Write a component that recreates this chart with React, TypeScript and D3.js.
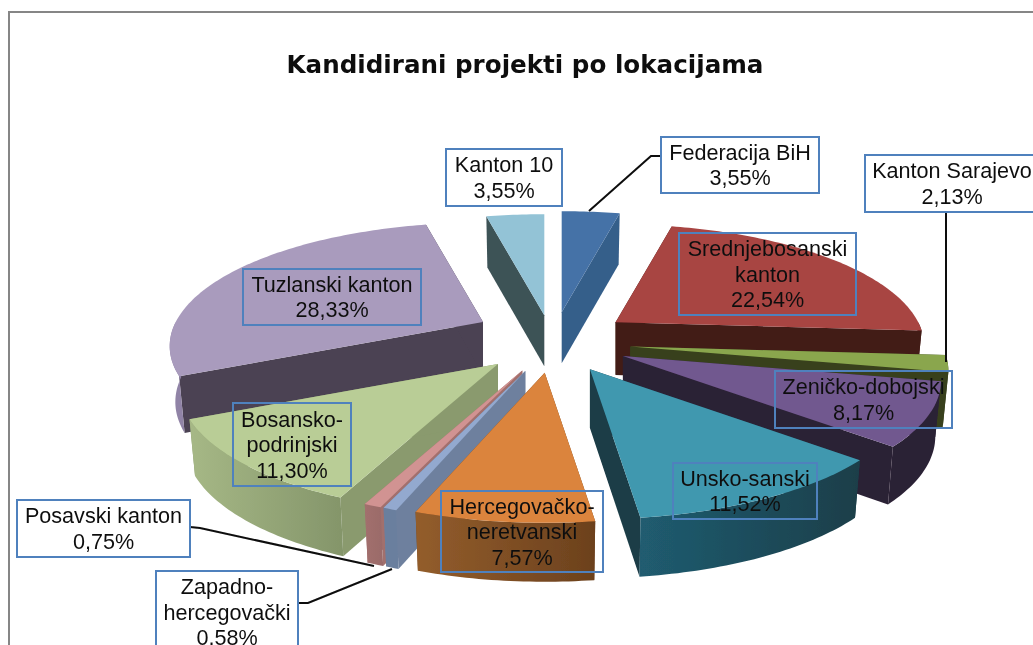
import React from 'react';
import * as d3 from 'd3';

// clockwise from 12 o'clock
const categories = [
  'Federacija BiH', 'Srednjebosanski\nkanton', 'Kanton Sarajevo', 'Zeničko-dobojski', 'Unsko-sanski',
  'Hercegovačko-\nneretvanski', 'Zapadno-\nhercegovački', 'Posavski kanton', 'Bosansko-\npodrinjski',
  'Tuzlanski kanton', 'Kanton 10',
];
const shares = [3.55, 22.54, 2.13, 8.17, 11.52, 7.57, 0.58, 0.75, 11.3, 28.33, 3.55];

// painter's order, back to front
const drawOrder = [0, 10, 1, 9, 2, 3, 4, 8, 7, 6, 5];

const topColors = ['#4572a7', '#a84442', '#8aa64e', '#71588f', '#4198af', '#db843d', '#93a9cf', '#d19392', '#b9cd96', '#a99bbd', '#93c3d6'];
const sideColors = ['#365f8a', '#431b18', '#38411c', '#2c2136', '#1b3c46', '#6f421e', '#6e809e', '#a26f6d', '#8a9a6e', '#4b4252', '#3d5257'];
const wallLeft = ['#365f8a', '#431b18', '#38411c', '#2c2136', '#205c70', '#935d2c', '#6b7f9e', '#a26f6d', '#a6b886', '#9083a6', '#3d5257'];
const wallRight = ['#365f8a', '#431b18', '#38411c', '#2c2136', '#1a3e49', '#6c411d', '#6b7f9e', '#9a6b6a', '#84956a', '#9083a6', '#3d5257'];

// small per slice corrections of the explode position and radius
const nudgeY = [0, -2, 0, 0, 0, 0, 0, 0, 0, -7, 3];
const radiusScale = [1, 0.97, 1, 1, 1, 1, 1, 1, 1, 0.985, 1];

// x, y, w, h of the label boxes, same order as categories
const labelBoxes = [
  [661, 137, 158, 56], [679, 233, 177, 82], [865, 155, 174, 57], [775, 371, 177, 57], [673, 463, 144, 56],
  [441, 491, 162, 81], [156, 571, 142, 82], [17, 500, 173, 57], [233, 403, 118, 83], [243, 269, 178, 56], [446, 149, 116, 57],
];
const whiteBoxes = [0, 2, 6, 7, 10];

const leaders = [
  [[589, 211], [651, 156], [661, 156]],
  [[946, 212], [946, 362]],
  [[190, 527], [200, 528], [374, 566]],
  [[298, 603], [308, 603], [392, 569]],
];

const CX = 553;
const CY = 342.5;
const EXPLODE_X = 78;
const EXPLODE_Y = 30.5;
const RX = 312;
const RY = 120.7;
const PERSP = 0.195;

const pct = d3.formatLocale({ decimal: ',', thousands: '.', grouping: [3], currency: ['', ''] }).format('.2f');
const slices = d3.pie<number>().sort(null).value(d => d)(shares);
const line = d3.line().curve(d3.curveLinear);

const depth = (q: number) => 55 - 4 * q;

function rim(apex: [number, number], a: number, lower: boolean, k: number): [number, number] {
  const p = Math.sin(a);
  const q = Math.cos(a);
  const s = k / (1 + PERSP * q);
  return [apex[0] + RX * s * p * (lower ? 0.982 : 1), apex[1] - RY * s * q + (lower ? depth(q) : 0)];
}

function arcPoints(apex: [number, number], a0: number, a1: number, lower: boolean, k: number) {
  const n = Math.max(2, Math.ceil(((a1 - a0) * 180) / Math.PI));
  return d3.range(n + 1).map(i => rim(apex, a0 + ((a1 - a0) * i) / n, lower, k));
}

// the outer wall only shows on the front half of the pie
function frontRanges(a0: number, a1: number) {
  const lo = Math.max(a0, Math.PI / 2);
  const hi = Math.min(a1, (3 * Math.PI) / 2);
  return lo < hi ? [lo, hi] : null;
}

export default function App() {
  return (
    <svg width={1033} height={645} style={{ position: 'absolute', left: 0, top: 0, background: '#fff' }}>
      <defs>
        <filter id="soft" x="0" y="0" width="1033" height="645" filterUnits="userSpaceOnUse">
          <feGaussianBlur stdDeviation="0.45" />
        </filter>
        {slices.map((_, i) => (
          <linearGradient id={`wall${i}`} key={i}>
            <stop offset="0" stopColor={wallLeft[i]} />
            <stop offset="1" stopColor={wallRight[i]} />
          </linearGradient>
        ))}
      </defs>
      <g filter="url(#soft)">
        <path d="M9,645V12H1033" fill="none" stroke="#868686" strokeWidth={2} />
        <text x={525} y={73} textAnchor="middle" fontFamily="'DejaVu Sans'" fontWeight="bold" fontSize={24.6} fill="#111">
          Kandidirani projekti po lokacijama
        </text>

        {drawOrder.map(i => {
          const sl = slices[i];
          const k = radiusScale[i];
          const mid = (sl.startAngle + sl.endAngle) / 2;
          const apex: [number, number] = [CX + EXPLODE_X * Math.sin(mid), CY - EXPLODE_Y * Math.cos(mid) + nudgeY[i]];
          const apexLow: [number, number] = [apex[0], apex[1] + depth(Math.cos(mid))];
          const upper = arcPoints(apex, sl.startAngle, sl.endAngle, false, k);
          const sideCorner = (a: number) => [apex, rim(apex, a, false, k), rim(apex, a, true, k), apexLow] as [number, number][];
          const front = frontRanges(sl.startAngle, sl.endAngle);
          return (
            <g key={i}>
              <path d={line(sideCorner(sl.startAngle)) + 'Z'} fill={sideColors[i]} />
              <path d={line(sideCorner(sl.endAngle)) + 'Z'} fill={sideColors[i]} />
              {front && (
                <path
                  d={
                    line([
                      ...arcPoints(apex, front[0], front[1], false, k),
                      ...arcPoints(apex, front[0], front[1], true, k).reverse(),
                    ]) + 'Z'
                  }
                  fill={`url(#wall${i})`}
                />
              )}
              <path d={line([apex, ...upper]) + 'Z'} fill={topColors[i]} />
            </g>
          );
        })}

        {leaders.map((pts, i) => (
          <path key={i} d={line(pts as [number, number][]) as string} fill="none" stroke="#0a0a0a" strokeWidth={2} />
        ))}

        {categories.map((name, i) => {
          const [x, y, w, h] = labelBoxes[i];
          const rows = [...name.split('\n'), pct(shares[i]) + '%'];
          return (
            <g key={name}>
              <rect x={x} y={y} width={w} height={h} fill={whiteBoxes.includes(i) ? '#fff' : 'none'} stroke="#4f81bd" strokeWidth={2} />
              {rows.map((row, j) => (
                <text
                  key={j}
                  x={x + w / 2}
                  y={y + h / 2 + (j - (rows.length - 1) / 2) * 25.5 + 7.5}
                  textAnchor="middle"
                  fontFamily="'Liberation Sans'"
                  fontSize={21.6}
                  fill="#111"
                >
                  {row}
                </text>
              ))}
            </g>
          );
        })}
      </g>
    </svg>
  );
}
